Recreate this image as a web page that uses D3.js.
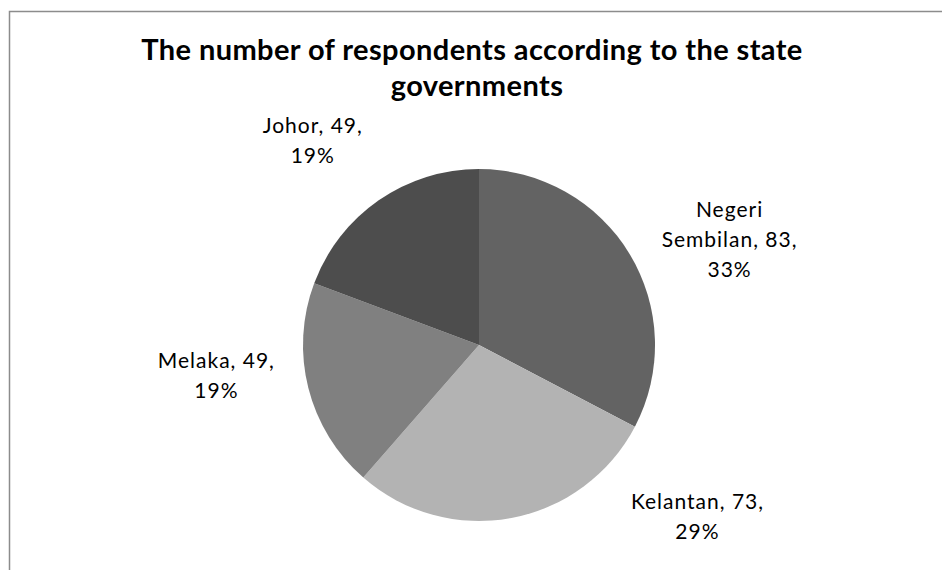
<!DOCTYPE html>
<html>
  <head>
    <meta charset="utf-8">
    <title>Respondents by state</title>
    <script src="https://d3js.org/d3.v7.min.js"></script>
    <style>
      body { margin: 0; background: #fff; }
      text { font-family: Lato, "Open Sans", sans-serif; fill: #000; }
    </style>
  </head>
  <body>
    <script>
      const states = ["Negeri Sembilan", "Kelantan", "Melaka", "Johor"];
      const respondents = [83, 73, 49, 49];
      const percents = ["33%", "29%", "19%", "19%"];
      const colors = ["#636363", "#b3b3b3", "#808080", "#4d4d4d"];

      // label lines as Excel wrapped them
      const labelLines = [
        ["Negeri", "Sembilan, 83,", "33%"],
        ["Kelantan, 73,", "29%"],
        ["Melaka, 49,", "19%"],
        ["Johor, 49,", "19%"]
      ];
      // where the "best fit" labels ended up, relative to the slice edge
      const labelNudge = [[100, -14], [186, -1], [-92, -12], [-66, -59]];

      const width = 942, height = 570;
      const cx = 479, cy = 345, radius = 176;

      const svg = d3.select("body").append("svg")
        .attr("width", width)
        .attr("height", height);

      // chart frame (runs off the right and bottom edge)
      svg.append("rect")
        .attr("x", 9.5).attr("y", 11.5)
        .attr("width", width).attr("height", height)
        .attr("fill", "none")
        .attr("stroke", "#8c8c8c")
        .attr("stroke-width", 1.5);

      const title = svg.append("text")
        .attr("text-anchor", "middle")
        .attr("font-weight", "bold")
        .attr("font-size", 29)
        .attr("letter-spacing", 0.4);
      title.append("tspan").attr("x", 472).attr("y", 60)
        .text("The number of respondents according to the state");
      title.append("tspan").attr("x", 477).attr("y", 96)
        .text("governments");

      const data = states.map((s, i) => ({ state: s, value: respondents[i], i: i }));

      const pie = d3.pie().value(d => d.value).sort(null);
      const arc = d3.arc().innerRadius(0).outerRadius(radius);
      const edge = d3.arc().innerRadius(radius).outerRadius(radius);

      const g = svg.append("g").attr("transform", "translate(" + cx + "," + cy + ")");

      const arcs = pie(data);

      g.selectAll("path")
        .data(arcs)
        .enter()
        .append("path")
        .attr("d", arc)
        .attr("fill", d => colors[d.data.i]);

      const lineH = 30;
      g.selectAll("text.lbl")
        .data(arcs)
        .enter()
        .append("text")
        .attr("class", "lbl")
        .attr("text-anchor", "middle")
        .attr("font-size", 21)
        .attr("letter-spacing", 1)
        .each(function(d) {
          const p = edge.centroid(d);
          const n = labelNudge[d.data.i];
          const lines = labelLines[d.data.i];
          const x = p[0] + n[0];
          const y0 = p[1] + n[1] - (lines.length - 1) * lineH / 2 + 7;
          lines.forEach((t, k) => {
            d3.select(this).append("tspan")
              .attr("x", x)
              .attr("y", y0 + k * lineH)
              .text(t);
          });
        });
    </script>
  </body>
</html>
